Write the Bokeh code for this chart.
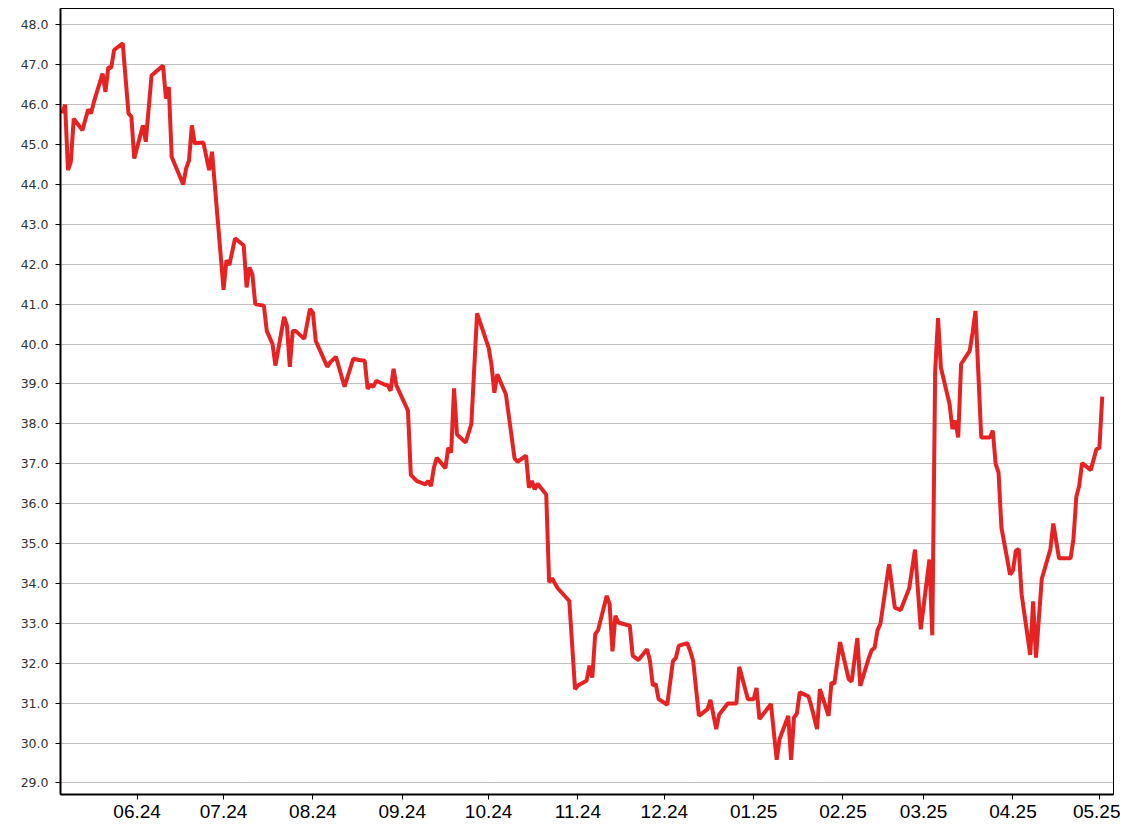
import pandas as pd
from bokeh.plotting import figure
from bokeh.models import (Range1d, SingleIntervalTicker, PrintfTickFormatter,
                          MonthsTicker, DatetimeTickFormatter)
from bokeh.embed import file_html
from bokeh.resources import INLINE

dates = [
    "2024-05-06", "2024-05-07", "2024-05-08", "2024-05-09", "2024-05-10", "2024-05-13",
    "2024-05-15", "2024-05-16", "2024-05-17", "2024-05-20", "2024-05-21", "2024-05-22",
    "2024-05-23", "2024-05-24", "2024-05-27", "2024-05-29", "2024-05-30", "2024-05-31",
    "2024-06-03", "2024-06-04", "2024-06-06", "2024-06-10", "2024-06-11", "2024-06-12",
    "2024-06-13", "2024-06-17", "2024-06-18", "2024-06-19", "2024-06-20", "2024-06-21",
    "2024-06-24", "2024-06-26", "2024-06-27",
    "2024-07-01", "2024-07-02", "2024-07-03", "2024-07-05", "2024-07-08", "2024-07-09",
    "2024-07-10", "2024-07-11", "2024-07-12", "2024-07-15", "2024-07-16", "2024-07-18",
    "2024-07-19", "2024-07-22", "2024-07-23", "2024-07-24", "2024-07-25", "2024-07-26",
    "2024-07-29", "2024-07-31",
    "2024-08-01", "2024-08-02", "2024-08-06", "2024-08-07", "2024-08-09", "2024-08-12",
    "2024-08-15", "2024-08-17", "2024-08-19", "2024-08-20", "2024-08-21", "2024-08-22",
    "2024-08-23", "2024-08-26", "2024-08-27", "2024-08-28", "2024-08-29", "2024-08-30",
    "2024-09-03", "2024-09-04", "2024-09-06", "2024-09-09", "2024-09-10", "2024-09-11",
    "2024-09-12", "2024-09-13", "2024-09-16", "2024-09-17", "2024-09-18", "2024-09-19",
    "2024-09-20", "2024-09-23", "2024-09-25", "2024-09-27",
    "2024-10-01", "2024-10-02", "2024-10-03", "2024-10-04", "2024-10-07", "2024-10-10",
    "2024-10-11", "2024-10-14", "2024-10-15", "2024-10-16", "2024-10-17", "2024-10-18",
    "2024-10-21", "2024-10-22", "2024-10-23", "2024-10-25", "2024-10-29", "2024-10-31",
    "2024-11-01", "2024-11-04", "2024-11-05", "2024-11-06", "2024-11-07", "2024-11-08",
    "2024-11-11", "2024-11-12", "2024-11-13", "2024-11-14", "2024-11-15", "2024-11-19",
    "2024-11-20", "2024-11-22", "2024-11-25", "2024-11-26", "2024-11-27", "2024-11-28",
    "2024-11-29",
    "2024-12-02", "2024-12-04", "2024-12-05", "2024-12-06", "2024-12-09", "2024-12-10",
    "2024-12-11", "2024-12-13", "2024-12-16", "2024-12-17", "2024-12-19", "2024-12-20",
    "2024-12-23", "2024-12-26", "2024-12-27", "2024-12-30",
    "2025-01-01", "2025-01-02", "2025-01-03", "2025-01-07", "2025-01-09", "2025-01-10",
    "2025-01-13", "2025-01-14", "2025-01-15", "2025-01-16", "2025-01-17", "2025-01-20",
    "2025-01-21", "2025-01-23", "2025-01-24", "2025-01-27", "2025-01-28", "2025-01-29",
    "2025-01-31",
    "2025-02-03", "2025-02-04", "2025-02-06", "2025-02-07", "2025-02-10", "2025-02-11",
    "2025-02-12", "2025-02-13", "2025-02-14", "2025-02-17", "2025-02-19", "2025-02-21",
    "2025-02-24", "2025-02-26", "2025-02-28",
    "2025-03-03", "2025-03-04", "2025-03-05", "2025-03-06", "2025-03-07", "2025-03-10",
    "2025-03-11", "2025-03-12", "2025-03-13", "2025-03-14", "2025-03-17", "2025-03-18",
    "2025-03-19", "2025-03-21", "2025-03-24", "2025-03-25", "2025-03-26", "2025-03-27",
    "2025-03-28", "2025-03-31",
    "2025-04-01", "2025-04-02", "2025-04-03", "2025-04-04", "2025-04-07", "2025-04-08",
    "2025-04-09", "2025-04-11", "2025-04-14", "2025-04-15", "2025-04-17", "2025-04-21",
    "2025-04-22", "2025-04-23", "2025-04-24", "2025-04-25", "2025-04-28", "2025-04-30",
    "2025-05-01", "2025-05-02",
]

prices = [
    45.78, 46.00, 44.36, 44.57, 45.65, 45.36,
    45.88, 45.78, 46.07, 46.78, 46.32, 46.94,
    46.92, 47.37, 47.54, 45.78, 45.70, 44.65,
    45.48, 45.07, 46.73, 46.98, 46.15, 46.44,
    44.69, 44.00, 44.40, 44.60, 45.48, 45.03,
    45.05, 44.36, 44.82,
    41.36, 42.10, 41.98, 42.65, 42.47, 41.42,
    41.92, 41.75, 41.00, 40.96, 40.33, 40.00,
    39.46, 40.68, 40.46, 39.43, 40.33, 40.33,
    40.13, 40.88,
    40.79, 40.08, 39.43, 39.54, 39.68, 38.93,
    39.63, 39.60, 39.58, 38.88, 38.98, 38.93,
    39.08, 38.98, 38.96, 38.83, 39.38, 38.96,
    38.33, 36.72, 36.57, 36.48, 36.57, 36.44,
    36.90, 37.15, 36.89, 37.40, 37.28, 38.89,
    37.74, 37.53, 37.99, 40.77,
    39.91, 39.48, 38.78, 39.24, 38.74, 37.14,
    37.05, 37.20, 36.40, 36.57, 36.36, 36.50,
    36.23, 34.03, 34.13, 33.88, 33.56, 31.35,
    31.44, 31.56, 31.94, 31.64, 32.73, 32.83,
    33.69, 33.48, 32.30, 33.19, 33.02, 32.94,
    32.19, 32.08, 32.35, 32.06, 31.44, 31.48,
    31.10,
    30.96, 32.06, 32.13, 32.44, 32.50, 32.30,
    32.06, 30.68, 30.85, 31.08, 30.35, 30.71,
    30.99, 30.99, 31.91, 31.10,
    31.10, 31.38, 30.60, 30.98, 29.58, 30.10,
    30.68, 29.58, 30.64, 30.74, 31.27, 31.17,
    30.93, 30.35, 31.35, 30.68, 31.52, 31.48,
    32.53,
    31.60, 31.54, 32.63, 31.43, 32.14, 32.33,
    32.39, 32.83, 32.99, 34.48, 33.39, 33.33,
    33.88, 34.85, 32.85,
    34.60, 32.70, 39.30, 40.65, 39.41, 38.49,
    37.87, 38.08, 37.66, 39.50, 39.83, 40.29,
    40.83, 37.66, 37.66, 37.83, 36.99, 36.78,
    35.40, 34.22,
    34.32, 34.82, 34.86, 33.73, 32.21, 33.55,
    32.14, 34.11, 34.86, 35.50, 34.63, 34.63,
    35.11, 36.17, 36.45, 37.02, 36.84, 37.37,
    37.39, 38.68,
]

x = pd.to_datetime(dates)

anchor = pd.Timestamp("2024-06-01")
p = figure(
    width=1120, height=834,
    x_axis_type="datetime",
    x_range=Range1d(anchor - pd.Timedelta(days=26.6), anchor + pd.Timedelta(days=338.9)),
    y_range=Range1d(28.71, 48.41),
    output_backend="svg", toolbar_location=None,
    min_border_left=60, min_border_right=7, min_border_top=8, min_border_bottom=40,
)
p.background_fill_color = "white"
p.border_fill_color = "white"
p.outline_line_color = "black"
p.outline_line_width = 1

p.line(x, prices, line_color="#E62222", line_width=4)

# grids
p.xgrid.visible = False
p.ygrid.grid_line_color = "#808080"
p.ygrid.grid_line_dash = "1 1"
p.ygrid.grid_line_width = 1
p.ygrid.ticker = SingleIntervalTicker(interval=1.0)

# y axis
p.yaxis.ticker = SingleIntervalTicker(interval=1.0)
p.yaxis.formatter = PrintfTickFormatter(format="%.1f")
p.yaxis.minor_tick_line_color = None
p.yaxis.major_tick_out = 5
p.yaxis.major_tick_in = 0
p.yaxis.major_tick_line_color = "black"
p.yaxis.axis_line_color = "black"
p.yaxis.axis_line_width = 2
p.yaxis.major_label_text_font = "DejaVu Sans"
p.yaxis.major_label_text_font_size = "12.5px"
p.yaxis.major_label_text_color = "#333333"
p.yaxis.major_label_standoff = 7

# x axis
p.xaxis.ticker = MonthsTicker(months=list(range(1, 13)))
p.xaxis.formatter = DatetimeTickFormatter(months="%m.%y", days="%m.%y", years="%m.%y")
p.xaxis.minor_tick_line_color = None
p.xaxis.major_tick_out = 5
p.xaxis.major_tick_in = 0
p.xaxis.major_tick_line_color = "black"
p.xaxis.axis_line_color = "black"
p.xaxis.axis_line_width = 2
p.xaxis.major_label_text_font = "Liberation Sans"
p.xaxis.major_label_text_font_size = "19px"
p.xaxis.major_label_text_color = "black"
p.xaxis.major_label_standoff = 5

open("out.html", "w").write(file_html(p, INLINE))
